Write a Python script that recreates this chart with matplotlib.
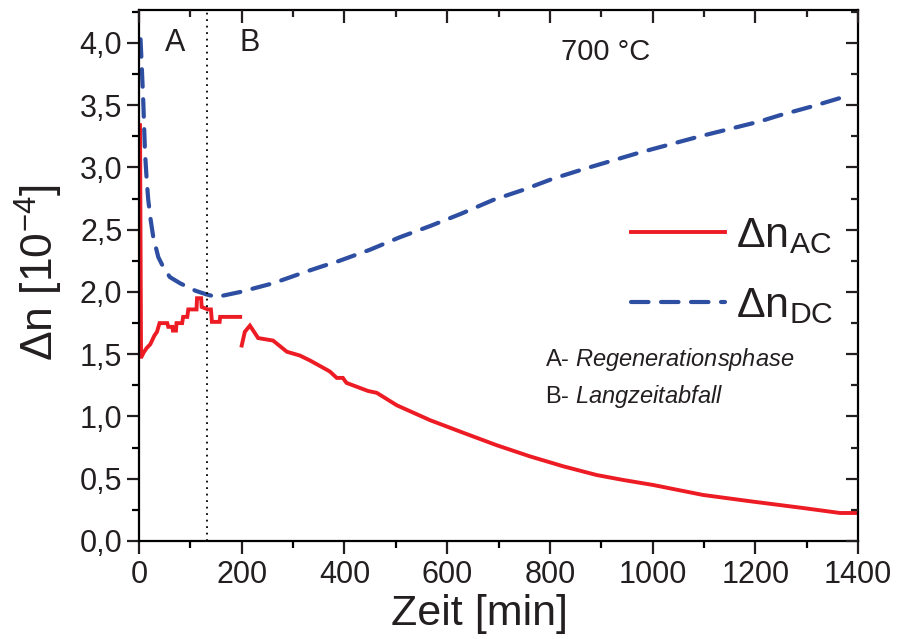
import numpy as np
import matplotlib
matplotlib.use("Agg")
import matplotlib.pyplot as plt
from matplotlib.lines import Line2D
from matplotlib.ticker import MultipleLocator, FuncFormatter

plt.rcParams['font.family'] = ['Liberation Sans', 'DejaVu Sans']
plt.rcParams['mathtext.fontset'] = 'custom'
plt.rcParams['mathtext.rm'] = 'Liberation Sans'
plt.rcParams['mathtext.it'] = 'Liberation Sans:italic'

# Zeit [min] und Brechzahländerung [1e-4] für DC- und AC-Messung
dc_t = [3, 5, 8.4, 11.7, 15, 18, 22.7, 27.8, 37.6, 47.3, 60, 80, 110, 132, 151,
        197, 261, 323, 352, 390, 450, 508, 567, 628, 690, 748, 806, 868, 975,
        1092, 1209, 1248, 1310, 1375]
dc_v = [4.03, 3.85, 3.52, 3.12, 2.90, 2.74, 2.58, 2.44, 2.28, 2.20, 2.12, 2.07,
        2.01, 1.98, 1.96, 2.00, 2.07, 2.16, 2.20, 2.25, 2.34, 2.44, 2.53, 2.63,
        2.74, 2.82, 2.91, 2.99, 3.12, 3.25, 3.37, 3.42, 3.49, 3.57]

ac_t = [2, 4, 5, 10, 15, 22, 30, 35, 40, 55, 57, 65, 66, 72, 73, 84, 86, 94, 96,
        112, 113, 121, 122, 134, 140, 142, 157, 158, 197, np.nan,
        200, 206, 216, 232, 261, 288, 313, 333, 368, 372, 385, 397, 404, 446,
        463, 502, 567, 631, 696, 761, 826, 891, 943, 1001, 1098, 1196, 1293,
        1365, 1400]
ac_v = [3.34, 1.48, 1.48, 1.52, 1.55, 1.58, 1.65, 1.68, 1.75, 1.75, 1.72, 1.72,
        1.69, 1.69, 1.75, 1.75, 1.80, 1.80, 1.86, 1.86, 1.95, 1.95, 1.88, 1.86,
        1.86, 1.76, 1.76, 1.80, 1.80, np.nan,
        1.57, 1.68, 1.73, 1.63, 1.61, 1.52, 1.49, 1.45, 1.37, 1.36, 1.31, 1.31,
        1.27, 1.205, 1.19, 1.09, 0.97, 0.87, 0.77, 0.68, 0.60, 0.53, 0.49, 0.45,
        0.37, 0.316, 0.265, 0.225, 0.225]

phase_boundary = 132  # Übergang Regenerationsphase -> Langzeitabfall

red = '#ED1C24'
blue = '#2E4EA2'
ink = '#231F20'
ac_lw, dc_lw = 2.8, 3.0
dc_dash = (4.2, 3.0)

fig = plt.figure(figsize=(8.97, 6.39), dpi=100)
pos = [139/897, 1-541/639, (858-139)/897, (541-10)/639]
ax = fig.add_axes(pos)

ax.plot(ac_t, ac_v, color=red, lw=ac_lw, solid_joinstyle='miter')
ax.plot(dc_t, dc_v, color=blue, lw=dc_lw, dashes=dc_dash, dash_capstyle='round')
ax.axvline(phase_boundary, color='black', lw=1.3, ls=(0, (1, 2.6)))

ax.set_xlim(0, 1400)
ax.set_ylim(0, 4.265)

ax.xaxis.set_major_locator(MultipleLocator(200))
ax.xaxis.set_minor_locator(MultipleLocator(100))
ax.yaxis.set_major_locator(MultipleLocator(0.5))
ax.yaxis.set_minor_locator(MultipleLocator(0.25))
ax.yaxis.set_major_formatter(FuncFormatter(lambda v, p: f"{v:.1f}".replace('.', ',')))

for sp in ax.spines.values():
    sp.set_linewidth(1.6)
ax.tick_params(which='major', direction='out', length=9, width=1.6,
               labelsize=22, colors=ink, top=False, right=False)
ax.tick_params(which='minor', direction='out', length=5, width=1.6,
               top=False, right=False)
ax.tick_params(axis='x', pad=5)
ax.tick_params(axis='y', pad=3)

# Innenliegende Ticks oben und rechts über eine deckungsgleiche Achse
ax2 = fig.add_axes(pos, sharex=ax, sharey=ax)
ax2.patch.set_visible(False)
for sp in ax2.spines.values():
    sp.set_visible(False)
ax2.xaxis.tick_top()
ax2.yaxis.tick_right()
ax2.tick_params(which='major', direction='in', length=9, width=1.6,
                labeltop=False, labelright=False, colors=ink)
ax2.tick_params(which='minor', direction='in', length=5, width=1.6, colors=ink)

ax.set_xlabel('Zeit [min]', fontsize=31, labelpad=0, color=ink)
ax.xaxis.set_label_coords(0.473, -0.1)
ax.set_ylabel(r'$\mathregular{\Delta n\ [10^{-4}]}$', fontsize=32, color=ink)
ax.yaxis.set_label_coords(-0.103, 0.505)

ax.text(70, 4.0, 'A', fontsize=22, ha='center', va='center', color=ink)
ax.text(216, 4.0, 'B', fontsize=22, ha='center', va='center', color=ink)
ax.text(909, 3.93, '700 °C', fontsize=21, ha='center', va='center', color=ink)
ax.text(790, 1.454, r'A- $\mathit{Regenerationsphase}$', fontsize=17,
        ha='left', va='center', color=ink)
ax.text(790, 1.157, r'B- $\mathit{Langzeitabfall}$', fontsize=17,
        ha='left', va='center', color=ink)

handles = [Line2D([], [], color=red, lw=ac_lw),
           Line2D([], [], color=blue, lw=dc_lw, dashes=dc_dash, dash_capstyle='round')]
labels = [r'$\mathregular{\Delta n_{AC}}$', r'$\mathregular{\Delta n_{DC}}$']
ax.legend(handles, labels, loc='upper left', bbox_to_anchor=(0.66, 0.645),
          frameon=False, fontsize=31, handlelength=2.2, handletextpad=0.25,
          labelspacing=0.7, borderaxespad=0, labelcolor=ink)

fig.savefig('out.png', dpi=100)
